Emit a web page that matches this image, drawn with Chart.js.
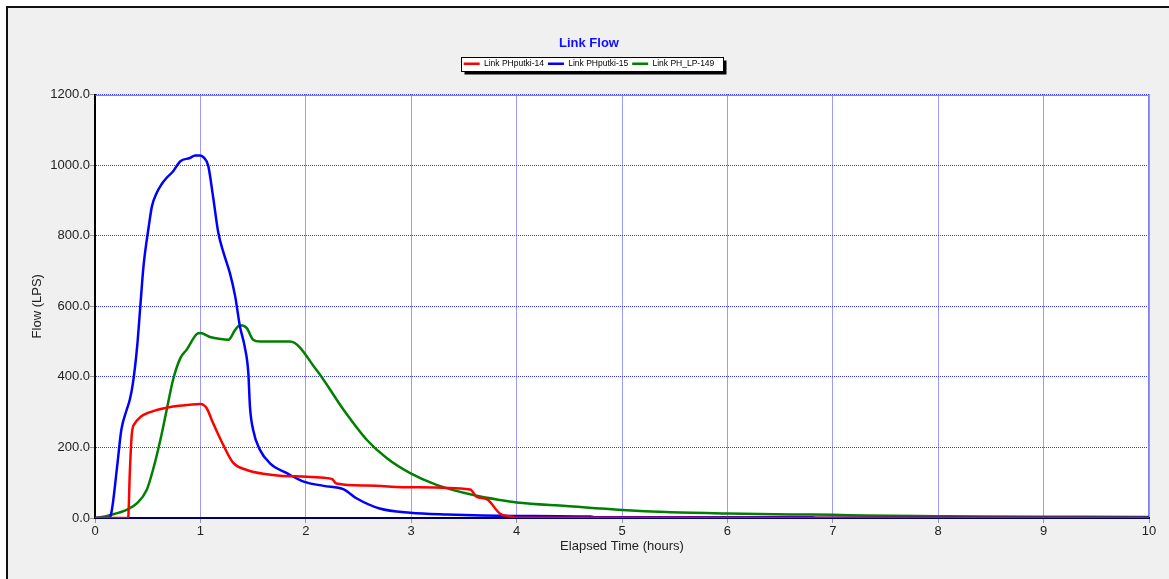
<!DOCTYPE html>
<html>
<head>
<meta charset="utf-8">
<script src="https://cdn.jsdelivr.net/npm/chart.js@4.4.0/dist/chart.umd.min.js"></script>
<style>
  html, body { margin: 0; padding: 0; background: #ffffff; }
  #wrap { width: 1169px; height: 579px; position: relative; }
  canvas { display: block; }
</style>
</head>
<body>
<div id="wrap"><canvas id="c" width="1169" height="579"></canvas></div>
<script>
// ---- data ----
const chartTitle = "Link Flow";
const seriesNames = ["Link PHputki-14", "Link PHputki-15", "Link PH_LP-149"];
const seriesColors = ["#ff0000", "#0000ff", "#008000"];
const xTickValues = [0, 1, 2, 3, 4, 5, 6, 7, 8, 9, 10];
const yTickValues = [0, 200, 400, 600, 800, 1000, 1200];

const redTime = [0, 0.31, 0.316, 0.33, 0.35, 0.38, 0.42, 0.46, 0.585, 0.74, 0.90, 1.0, 1.03, 1.06, 1.12, 1.22, 1.31, 1.44, 1.63, 1.755, 2.01, 2.20, 2.25, 2.29, 2.58, 3.02, 3.56, 3.62, 3.72, 3.84, 3.94, 4.0, 10];
const redFlow = [0, 0, 4, 127, 240, 269, 283, 292, 306, 316, 321, 323, 320, 311, 269, 205, 157, 136, 124, 120, 117, 113, 110, 98, 92, 87, 81, 60, 53, 13, 4, 1, 0];

const blueTime = [0, 0.13, 0.15, 0.17, 0.21, 0.25, 0.30, 0.33, 0.36, 0.40, 0.43, 0.46, 0.51, 0.54, 0.585, 0.63, 0.68, 0.74, 0.81, 0.90, 0.95, 0.99, 1.03, 1.075, 1.12, 1.17, 1.22, 1.28, 1.33, 1.375, 1.42, 1.455, 1.47, 1.50, 1.565, 1.66, 1.82, 1.98, 2.17, 2.36, 2.48, 2.70, 2.99, 3.34, 3.97, 4.7, 4.75, 6.8, 6.85, 10];
const blueFlow = [0, 0, 8, 43, 146, 250, 306, 335, 382, 486, 600, 713, 826, 883, 921, 945, 964, 982, 1011, 1020, 1027, 1027, 1022, 997, 911, 808, 751, 694, 628, 543, 486, 410, 316, 250, 193, 155, 127, 103, 91, 81, 56, 27, 15, 10, 6, 4, 2, 2, 1, 1];

const greenTime = [0, 0.05, 0.14, 0.30, 0.40, 0.49, 0.55, 0.62, 0.68, 0.74, 0.81, 0.87, 0.965, 1.0, 1.09, 1.19, 1.265, 1.33, 1.375, 1.44, 1.50, 1.565, 1.85, 2.10, 2.36, 2.58, 2.77, 2.99, 3.24, 3.59, 3.84, 4.0, 4.47, 5.0, 5.42, 6.0, 6.6, 7.0, 7.3, 8.0, 8.4, 9.0, 10];
const greenFlow = [0, 2, 8, 23, 42, 79, 136, 221, 306, 391, 453, 477, 521, 524, 513, 507, 505, 533, 546, 538, 505, 500, 500, 420, 306, 221, 169, 127, 94, 65, 51, 44, 34, 23, 17, 13, 10, 9, 7, 5, 4, 3.5, 3];

function pts(xs, ys) { return xs.map((x, i) => ({ x: x, y: ys[i] })); }

const FONT = "'Liberation Sans', Arial, sans-serif";

const framePlugin = {
  id: 'framePlugin',
  beforeLayout(chart) {
    const lg = chart.legend;
    if (lg && !lg._patched) {
      const orig = lg.fit.bind(lg);
      lg.fit = function () { orig(); this.height += 16.4; };
      lg._patched = true;
    }
  },
  beforeDraw(chart) {
    const ctx = chart.ctx, W = chart.width, H = chart.height, a = chart.chartArea;
    ctx.save();
    ctx.fillStyle = '#ffffff';
    ctx.fillRect(0, 0, W, H);
    ctx.fillStyle = '#f0f0f0';
    ctx.fillRect(7, 8, W - 7, H - 8);
    ctx.strokeStyle = '#111111';
    ctx.lineWidth = 2;
    ctx.beginPath();
    ctx.moveTo(7, H); ctx.lineTo(7, 7); ctx.lineTo(W, 7);
    ctx.stroke();
    ctx.fillStyle = '#ffffff';
    ctx.fillRect(a.left, a.top, a.right - a.left, a.bottom - a.top);
    // legend frame with shadow
    const lg = chart.legend;
    if (lg && lg.legendHitBoxes && lg.legendHitBoxes.length) {
      const hb = lg.legendHitBoxes;
      const first = hb[0], last = hb[hb.length - 1];
      const x0 = Math.round(first.left - 3) + 0.5;
      const x1 = Math.round(last.left + last.width + 9) + 0.5;
      const y0 = Math.round(first.top - 3) + 0.5;
      const y1 = Math.round(first.top + first.height + 3) + 0.5;
      ctx.fillStyle = '#000000';
      ctx.fillRect(x0 + 3, y0 + 3, x1 - x0, y1 - y0);
      ctx.fillStyle = '#ffffff';
      ctx.fillRect(x0, y0, x1 - x0, y1 - y0);
      ctx.strokeStyle = '#000000';
      ctx.lineWidth = 1;
      ctx.strokeRect(x0, y0, x1 - x0, y1 - y0);
    }
    ctx.restore();
  },
  beforeDatasetsDraw(chart) {
    const ctx = chart.ctx, a = chart.chartArea;
    ctx.save();
    ctx.strokeStyle = '#8080ff';
    ctx.lineWidth = 1;
    ctx.beginPath();
    ctx.moveTo(Math.round(a.left) + 0.5, Math.round(a.top) + 0.5);
    ctx.lineTo(Math.round(a.right) - 0.5, Math.round(a.top) + 0.5);
    ctx.lineTo(Math.round(a.right) - 0.5, Math.round(a.bottom));
    ctx.stroke();
    ctx.restore();
  }
};

const datasets = [
  { label: seriesNames[0], data: pts(redTime, redFlow), borderColor: seriesColors[0], backgroundColor: seriesColors[0] },
  { label: seriesNames[1], data: pts(blueTime, blueFlow), borderColor: seriesColors[1], backgroundColor: seriesColors[1] },
  { label: seriesNames[2], data: pts(greenTime, greenFlow), borderColor: seriesColors[2], backgroundColor: seriesColors[2] }
].map(d => Object.assign(d, {
  borderWidth: 2.5, pointRadius: 0, fill: false, cubicInterpolationMode: 'monotone'
}));

const gridColor = '#3a3aff';

new Chart(document.getElementById('c'), {
  type: 'line',
  data: { datasets: datasets },
  plugins: [framePlugin],
  options: {
    responsive: false,
    animation: false,
    events: [],
    layout: { padding: { left: 29, right: 20, top: 0, bottom: 0 } },
    plugins: {
      title: {
        display: true, text: chartTitle, color: '#1010ff',
        font: { family: FONT, size: 13, weight: 'bold' },
        padding: { top: 36, bottom: 4 }
      },
      legend: {
        display: true, position: 'top', align: 'center',
        labels: {
          usePointStyle: true, pointStyle: 'line', pointStyleWidth: 16,
          boxHeight: 8.5, padding: 4, color: '#000000',
          font: { family: FONT, size: 8.5 }
        }
      },
      tooltip: { enabled: false }
    },
    scales: {
      x: {
        type: 'linear', min: 0, max: 10,
        afterBuildTicks(s) { s.ticks = xTickValues.map(v => ({ value: v })); },
        afterFit(s) { s.height = 61; },
        ticks: { color: '#222222', font: { family: FONT, size: 13 }, padding: 1, maxRotation: 0,
          callback: v => String(v) },
        grid: { color: gridColor, tickColor: '#999999', tickLength: 5, lineWidth: 1, drawTicks: true },
        border: { display: true, color: '#000060', width: 2, dash: [1, 1] },
        title: { display: true, text: 'Elapsed Time (hours)', color: '#222222',
          font: { family: FONT, size: 13 }, padding: { top: 0, bottom: 25 } }
      },
      y: {
        type: 'linear', min: 0, max: 1200,
        afterBuildTicks(s) { s.ticks = yTickValues.map(v => ({ value: v })); },
        afterFit(s) { s.width = 66; },
        ticks: { color: '#222222', font: { family: FONT, size: 13 }, padding: 0,
          callback: v => Number(v).toFixed(1) },
        grid: { color: gridColor, tickColor: '#999999', tickLength: 5, lineWidth: 1 },
        border: { display: true, color: '#000000', width: 2, dash: [1, 1] },
        title: { display: true, text: 'Flow (LPS)', color: '#222222',
          font: { family: FONT, size: 13 }, padding: { top: 1, bottom: 0 } }
      }
    }
  }
});
</script>
</body>
</html>
